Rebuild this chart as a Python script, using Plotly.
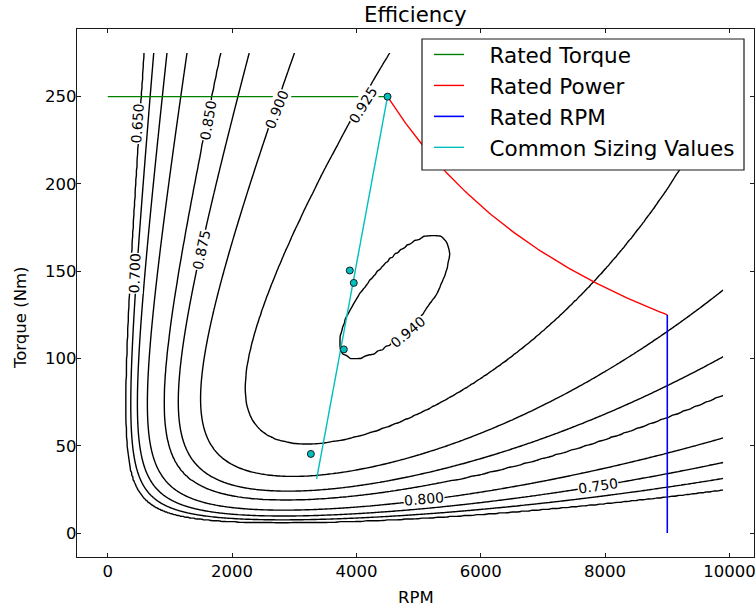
import numpy as np
import plotly.graph_objects as go

# ---------------- data ----------------
levels = [0.65, 0.70, 0.75, 0.80, 0.85, 0.875, 0.90, 0.925, 0.94]

# points read on each efficiency contour (level, rpm, torque)
sample_eff = ([0.65] * 6 + [0.70] * 6 + [0.75] * 6 + [0.80] * 6 + [0.85] * 6 +
              [0.875] * 8 + [0.90] * 10 + [0.925] * 14 + [0.94] * 8)
sample_rpm = [599, 347, 294, 3896, 9000, 9900,
              748, 428, 385, 3896, 9000, 9900,
              973, 546, 466, 3896, 9000, 9900,
              1311, 733, 669, 3896, 9000, 9900,
              1885, 1044, 894, 3896, 9000, 9900,
              2350, 1295, 1146, 3896, 9000, 9900, 1563, 1322,
              3090, 1671, 1483, 3896, 9000, 9900, 2581, 2126, 1697, 3090,
              4660, 2475, 2217, 3896, 3920, 3304, 2768, 2206, 3037, 4375, 7267, 7803, 8606, 9196,
              3722, 5287, 5473, 4107, 3893, 4429, 5179, 4644]
sample_torque = [275, 121.8, 87.4, 7.5, 21.4, 24.7,
                 275, 121.8, 87.4, 9.0, 26.6, 31.0,
                 275, 121.8, 87.4, 10.9, 33.9, 40.5,
                 275, 121.8, 87.4, 14.3, 45.9, 53.9,
                 275, 121.8, 87.4, 20.4, 66.3, 78.8,
                 275, 121.8, 87.4, 28.5, 84.5, 100.4, 219.4, 144.8,
                 275, 121.8, 87.4, 34.8, 115.1, 138.1, 225.1, 183.0, 49.1, 31.6,
                 275, 121.8, 87.4, 53.0, 229.9, 192.6, 152.4, 75.9, 50.1, 58.7, 123.7, 142.9, 177.3, 208.0,
                 105.6, 166.2, 158.2, 96.9, 125.8, 102.7, 128.5, 158.2]

rated_torque = 250.0
base_rpm = 4500.0
max_rpm = 9000.0

sizing_line_rpm = [4500, 3360]
sizing_line_torque = [250, 31]
sizing_rpm = [4500, 3893, 3957, 3797, 3267]
sizing_torque = [250, 150.4, 143.3, 105.2, 45.3]

x_ticks = [0, 2000, 4000, 6000, 8000, 10000]
x_tick_text = ["0", "2000", "4000", "6000", "8000", "10000"]
y_ticks = [0, 50, 100, 150, 200, 250]
y_tick_text = ["0", "50", "100", "150", "200", "250"]

# ---------------- loss model fitted to the read contour points ----------------
s_eta = np.array(sample_eff)
s_w = np.array(sample_rpm, float) * 2 * np.pi / 60
s_t = np.array(sample_torque, float)
s_p = s_t * s_w
s_loss = (1 - s_eta) / s_eta * s_p


def loss_basis(t, w):
    return np.stack([t ** 2, t ** 2 * w, np.ones_like(w), w ** 2, w ** 3], axis=-1)


wts = 1.0 / s_loss * np.where(s_eta > 0.935, 5.0, 1.0)
coef, *_ = np.linalg.lstsq(loss_basis(s_t, s_w) * wts[:, None], s_loss * wts, rcond=None)

rpm_grid = np.concatenate([np.arange(0, 1500, 10.0), np.arange(1500, 9901, 40.0)])
torque_grid = np.concatenate([np.arange(0, 30, 0.5), np.arange(30, 275.01, 2.5)])
RPM, TQ = np.meshgrid(rpm_grid, torque_grid)
OM = RPM * 2 * np.pi / 60
PW = TQ * OM
LOSS = loss_basis(TQ, OM) @ coef
eta = np.where(PW > 0, PW / np.maximum(PW + LOSS, 1e-9), 0.0)
# monotone remap so the uneven levels become evenly spaced for plotly
zmap = np.interp(eta, [0.0] + levels + [1.0], list(range(-1, len(levels) + 1)))
zmap = np.round(zmap, 4)

power_rpm = np.linspace(base_rpm, max_rpm, 120)
power_torque = rated_torque * base_rpm / power_rpm

FONT = "DejaVu Sans"
fig = go.Figure()
fig.add_trace(go.Contour(
    x=rpm_grid, y=torque_grid, z=zmap,
    contours=dict(coloring="lines", start=0, end=len(levels) - 1, size=1, showlabels=False),
    colorscale=[[0, "black"], [1, "black"]], showscale=False,
    line=dict(width=1.4, smoothing=1.0), hoverinfo="skip", showlegend=False))

SP = "\u00a0" * 3
fig.add_trace(go.Scatter(x=[0, base_rpm], y=[rated_torque, rated_torque], mode="lines",
                         line=dict(color="#008000", width=1.4), name=SP + "Rated Torque",
                         legendgroup="a"))
fig.add_trace(go.Scatter(x=power_rpm, y=power_torque, mode="lines",
                         line=dict(color="#ff0000", width=1.4), name=SP + "Rated Power",
                         legendgroup="b"))
fig.add_trace(go.Scatter(x=[max_rpm, max_rpm], y=[rated_torque * base_rpm / max_rpm, 0], mode="lines",
                         line=dict(color="#0000ff", width=1.6), name=SP + "Rated RPM",
                         legendgroup="c"))
fig.add_trace(go.Scatter(x=sizing_line_rpm, y=sizing_line_torque, mode="lines",
                         line=dict(color="#00bfbf", width=1.4), name=SP + "Common Sizing Values",
                         legendgroup="d"))
fig.add_trace(go.Scatter(x=sizing_rpm, y=sizing_torque, mode="markers",
                         marker=dict(color="#00bfbf", size=7, line=dict(color="#1a1a1a", width=1)),
                         showlegend=False, hoverinfo="skip"))

# contour labels (placement)
label_place = [("0.650", 469, 234.6, -86), ("0.700", 439, 148.8, -88),
               ("0.850", 1617, 236.6, -80), ("0.875", 1510, 162.0, -78),
               ("0.900", 2715, 242.4, -68), ("0.925", 4108, 245.2, -58),
               ("0.940", 4831, 115.1, -40), ("0.800", 5083, 19.5, -5),
               ("0.750", 7883, 27.1, -8)]
for txt, lx, ly, ang in label_place:
    fig.add_annotation(x=lx, y=ly, text=txt, showarrow=False, textangle=ang,
                       font=dict(family=FONT, size=14, color="black"),
                       bgcolor="white", borderpad=0)

# title and axis titles
PW_PX = 677
PH = 611 - 29 - 54
fig.add_annotation(text="Efficiency", xref="paper", yref="paper", x=0.5, y=1 + 15 / PH,
                   xanchor="center", yanchor="middle", showarrow=False,
                   font=dict(family=FONT, size=21.3, color="black"))
fig.add_annotation(text="RPM", xref="paper", yref="paper", x=0.5, y=-40 / PH,
                   xanchor="center", yanchor="middle", showarrow=False,
                   font=dict(family=FONT, size=16.5, color="black"))
fig.add_annotation(text="Torque (Nm)", xref="paper", yref="paper", x=-57 / PW_PX, y=(532 - 293) / PH,
                   xanchor="center", yanchor="middle", showarrow=False, textangle=-90,
                   font=dict(family=FONT, size=16.5, color="black"))

# legend frame
fig.add_shape(type="rect", xref="paper", yref="paper", layer="above",
              x0=(422 - 77) / PW_PX, x1=(744 - 77) / PW_PX,
              y0=1 - (170 - 29) / PH, y1=1 - (39 - 29) / PH,
              fillcolor="white", line=dict(color="#1a1a1a", width=1.2))

axis_common = dict(showline=True, linecolor="#1a1a1a", linewidth=1.2, mirror="allticks",
                   ticks="inside", ticklen=4, tickwidth=1, tickcolor="#1a1a1a",
                   showgrid=False, zeroline=False, automargin=False,
                   tickfont=dict(family=FONT, size=16.5, color="black"))
fig.update_xaxes(range=[-495, 10395], tickvals=x_ticks, ticktext=x_tick_text,
                 ticklabelstandoff=-1, **axis_common)
fig.update_yaxes(range=[-13.75, 288.75], tickvals=y_ticks, ticktext=y_tick_text,
                 ticklabelstandoff=-4, **axis_common)

fig.update_layout(
    width=756, height=611, autosize=False,
    margin=dict(l=77, r=2, t=29, b=54, autoexpand=False),
    plot_bgcolor="white", paper_bgcolor="white",
    legend=dict(x=(429 - 77) / PW_PX, xanchor="left", y=1 - (34 - 29) / PH, yanchor="top",
                bgcolor="rgba(0,0,0,0)", borderwidth=0,
                font=dict(family=FONT, size=21.5, color="black"),
                tracegroupgap=0, itemwidth=30),
    showlegend=True,
)

fig.write_html("out.html", config={"displayModeBar": False},
               post_script="document.body.style.margin='0px';document.body.style.overflow='hidden';")
